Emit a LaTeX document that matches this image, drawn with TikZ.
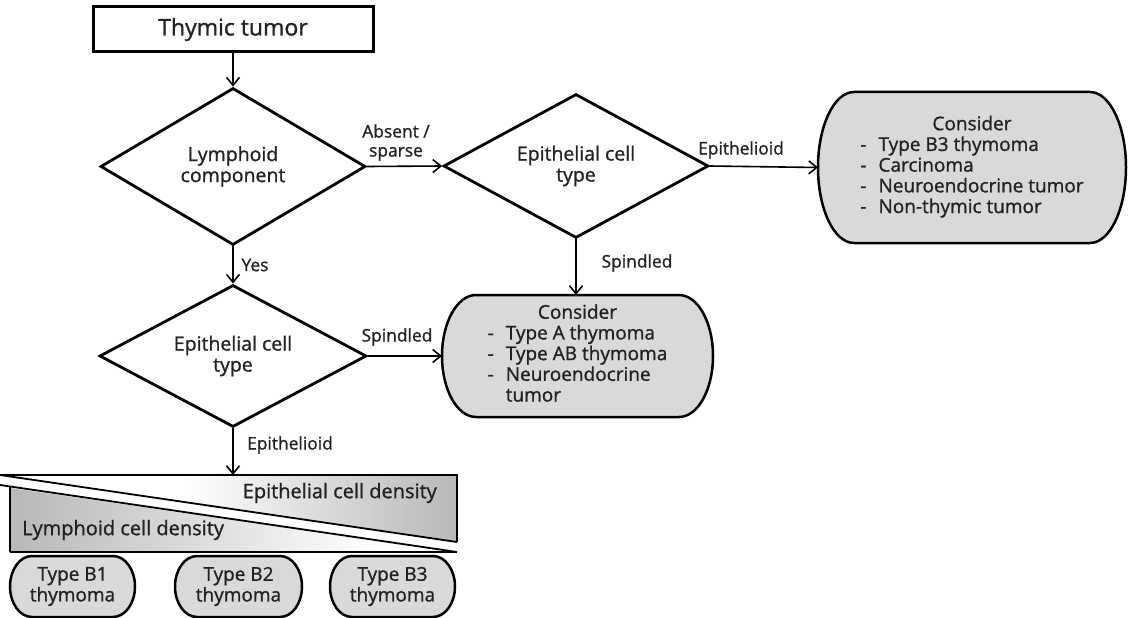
\documentclass[tikz,border=0pt]{standalone}
\usepackage{fontspec}
\setmainfont{Open Sans}[FakeBold=1.1]
\usetikzlibrary{shapes.geometric,arrows.meta,calc,backgrounds}
\definecolor{txt}{HTML}{222222}
\definecolor{boxgray}{HTML}{D9D9D9}
\definecolor{gradgray}{HTML}{B8B8B8}
\pgfdeclarehorizontalshading{upfade}{100bp}{color(0bp)=(white); color(45bp)=(white); color(75bp)=(gradgray); color(100bp)=(gradgray)}
\pgfdeclarehorizontalshading{lowfade}{100bp}{color(0bp)=(gradgray); color(25bp)=(gradgray); color(66bp)=(white); color(100bp)=(white)}
\newcommand\pillshape[2]{%
  \path[pillline] let \p1=(#1.north west), \p2=(#1.south east), \n1={(\y1-\y2)/2} in
   (\x1+#2pt,\y1) -- (\x2-#2pt,\y1)
   arc[start angle=90, end angle=-90, x radius=#2pt, y radius=\n1]
   -- (\x1+#2pt,\y2)
   arc[start angle=270, end angle=90, x radius=#2pt, y radius=\n1] -- cycle;}
\begin{document}
\begin{tikzpicture}[x=1pt,y=1pt,text=txt,
  titlebox/.style={draw=black, line width=3pt, minimum width=280pt, minimum height=45pt, inner sep=0pt, font=\fontsize{23}{26}\selectfont},
  dec/.style={diamond, draw=black, line width=2.8pt, inner sep=0pt, aspect=1.8, align=center, font=\fontsize{19.5}{21}\selectfont},
  pilltext/.style={inner sep=0pt, outer sep=0pt, align=center, font=\fontsize{19}{20.7}\selectfont},
  lbl/.style={inner sep=0pt, align=center, font=\fontsize{17.4}{19}\selectfont},
  dens/.style={inner sep=0pt, font=\fontsize{20}{22}\selectfont},
  arr/.style={-{Straight Barb[length=8pt,width=13pt]}, line width=1.6pt, draw=black},
  pillline/.style={draw=black, line width=2.5pt, fill=boxgray},
  gline/.style={draw=black, line width=1.8pt}]
\useasboundingbox (0,0) rectangle (1128,-618);

% nodes
\node[titlebox] (tt) at (233,-29.5) {Thymic tumor};
\node[dec, minimum width=265pt, minimum height=157pt] (d1) at (233,-166.5) {Lymphoid\\component};
\node[dec, minimum width=265pt, minimum height=144pt] (d2) at (576,-166) {Epithelial cell\\type};
\node[dec, minimum width=267pt, minimum height=142pt] (d3) at (233,-356) {Epithelial cell\\type};

\node[pilltext, minimum width=308pt, minimum height=151pt] (rb) at (972,-167.5)
 {\begin{tabular}{@{}l@{\hspace{12pt}}l@{}}\multicolumn{2}{c}{Consider}\\
  - & Type B3 thymoma\\ - & Carcinoma\\ - & Neuroendocrine tumor\\ - & Non-thymic tumor\end{tabular}};
\node[pilltext, minimum width=271pt, minimum height=122pt] (mb) at (577.5,-356)
 {\begin{tabular}{@{}l@{\hspace{12pt}}l@{}}\multicolumn{2}{c}{Consider}\\
  - & Type A thymoma\\ - & Type AB thymoma\\ - & Neuroendocrine\\ & tumor\end{tabular}};
\node[pilltext, minimum width=125pt, minimum height=61pt] (b1) at (72.5,-586.5) {Type B1\\thymoma};
\node[pilltext, minimum width=127pt, minimum height=61pt] (b2) at (238.5,-586.5) {Type B2\\thymoma};
\node[pilltext, minimum width=125pt, minimum height=61pt] (b3) at (392.5,-586.5) {Type B3\\thymoma};

\begin{scope}[on background layer]
  \pillshape{rb}{36}
  \pillshape{mb}{34}
  \pillshape{b1}{22}
  \pillshape{b2}{22}
  \pillshape{b3}{22}
\end{scope}

% density block
\shade[shading=upfade] (0,-475) -- (457,-475) -- (457,-542) -- cycle;
\shade[shading=lowfade] (10,-488) -- (10,-552) -- (457,-552) -- cycle;
\draw[gline] (0,-475) -- (457,-475) -- (457,-542);
\draw[gline] (0,-475) -- (457,-542);
\draw[gline] (0,-485) -- (457,-552);
\draw[gline] (10,-486.5) -- (10,-552);
\draw[black, line width=2.6pt] (10,-552) -- (457,-552);
\coordinate (gtop) at (233,-475);
\node[dens, anchor=east] (ecd) at (437,-493) {Epithelial cell density};
\node[dens, anchor=west] (lcd) at (22,-530) {Lymphoid cell density};

% connectors
\draw[arr] (tt) -- (d1);
\draw[arr] (d1.east) -- (d2.west);
\draw[arr] (d2.east) -- (rb.west);
\draw[arr] (d2.south) -- (d2.south |- mb.north);
\draw[arr] (d1.south) -- (d3.north);
\draw[arr] (d3.east) -- (d3.east -| mb.west);
\draw[arr] (d3.south) -- (gtop);

% labels
\node[lbl] (l1) at (396,-142.5) {Absent /\\sparse};
\node[lbl] (l2) at (741,-150) {Epithelioid};
\node[lbl] (l3) at (637,-263) {Spindled};
\node[lbl] (l4) at (255,-265) {Yes};
\node[lbl] (l5) at (397,-337) {Spindled};
\node[lbl] (l6) at (290,-445) {Epithelioid};
\end{tikzpicture}
\end{document}
